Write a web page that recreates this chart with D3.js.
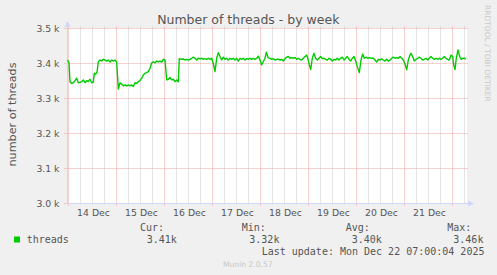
<!DOCTYPE html>
<html><head><meta charset="utf-8">
<script src="https://cdn.jsdelivr.net/npm/d3@7"></script>
<style>
html,body{margin:0;padding:0;background:#f0f0f0;}
svg{display:block;}
</style></head>
<body>
<script>
// ---- data ----
const title = "Number of threads - by week";
const yLabel = "number of threads";
const seriesName = "threads";
const yTicks = [3000, 3100, 3200, 3300, 3400, 3500];
const startTime = Date.UTC(2025, 11, 13, 23, 30);
const endTime = Date.UTC(2025, 11, 22, 7, 30);
// hours after startTime
const hours = [0,0.75,1.25,2.1,2.9,3.75,4.6,5.4,6.25,7.1,7.9,8.75,9.6,10.4,11.25,12.1,12.9,13.4,14.1,14.75,15.4,16.25,17.1,17.9,18.75,19.6,20.4,21.25,22.1,22.9,23.75,24.6,25.4,26.25,27.1,27.9,28.75,29.6,30.4,31.25,32.1,32.9,33.75,34.6,35.4,36.25,37.1,37.9,38.75,39.6,40.4,41.25,42.1,42.9,43.75,44.6,45.4,46.25,47.1,47.9,48.75,49.6,50.4,51.25,52.1,52.9,53.75,54.6,55.4,55.9,57.1,57.9,58.75,59.6,60.4,61.25,62.1,62.9,63.75,64.6,65.4,66.25,67.1,67.9,68.75,69.6,70.4,71.25,72.1,72.9,73.75,74.6,75.4,76.25,77.1,77.9,78.75,79.6,80.4,81.25,82.1,82.9,83.75,84.6,85.4,86.25,87.1,87.9,88.75,89.6,90.4,91.25,92.1,92.9,93.75,94.6,95.4,96.25,97.1,97.9,98.75,99.4,100.4,101.25,102.1,102.9,103.75,104.6,105.4,106.25,107.1,107.9,108.75,109.6,110.4,111.25,112.1,112.9,113.75,114.6,115.4,116.25,117.1,117.9,118.75,119.6,120.4,120.9,121.6,122.4,123.25,124.1,124.9,125.75,126.6,127.4,128.25,129.1,129.9,130.75,131.6,132.4,133.25,134.1,134.9,135.75,136.6,137.4,138.25,139.1,139.9,140.75,141.6,142.4,143.25,144.1,144.9,145.9,146.75,147.6,148.4,149.25,150.1,150.9,152.1,152.9,153.75,154.6,155.4,156.25,157.1,157.9,158.75,159.6,160.4,161.25,162.1,162.9,163.75,164.6,165.4,166.25,167.1,167.9,168.75,169.6,170.4,171.25,171.75,172.6,173.4,174.25,175.1,175.9,176.75,177.6,178.4,179.25,180.1,180.9,181.75,182.6,183.4,184.25,185.1,185.9,186.75,187.6,188.4,189.25,190.1,190.9,191.75,192.6,193.1,193.75,194.4,195.25,196.1,196.9,197.75,198.6,199.1];
const threads = [3410,3402,3348,3343,3345,3351,3358,3345,3346,3348,3353,3345,3351,3348,3355,3345,3347,3372,3370,3374,3405,3410,3407,3412,3410,3407,3410,3404,3410,3407,3410,3404,3327,3345,3341,3336,3339,3336,3339,3336,3339,3334,3345,3343,3348,3351,3358,3367,3372,3374,3377,3386,3402,3405,3402,3407,3405,3407,3404,3412,3410,3353,3355,3360,3353,3355,3348,3353,3348,3414,3412,3413,3410,3412,3410,3412,3415,3418,3415,3410,3415,3413,3415,3412,3414,3412,3415,3412,3415,3400,3377,3415,3431,3420,3410,3418,3412,3415,3410,3415,3412,3415,3410,3415,3407,3415,3412,3415,3410,3414,3412,3415,3412,3415,3412,3415,3421,3410,3396,3405,3415,3432,3416,3415,3412,3414,3410,3412,3412,3410,3412,3407,3414,3418,3420,3415,3417,3415,3417,3412,3415,3412,3410,3415,3420,3424,3410,3396,3383,3415,3429,3415,3410,3415,3420,3414,3415,3412,3410,3415,3412,3407,3412,3410,3415,3410,3415,3418,3410,3415,3420,3412,3407,3415,3420,3407,3391,3374,3410,3427,3415,3418,3415,3417,3415,3415,3410,3404,3412,3410,3413,3410,3407,3412,3407,3410,3415,3418,3415,3417,3415,3420,3415,3410,3399,3382,3410,3424,3429,3420,3407,3412,3415,3418,3415,3410,3412,3415,3410,3415,3420,3415,3412,3415,3412,3415,3412,3415,3420,3415,3412,3410,3424,3420,3396,3383,3415,3439,3420,3412,3415,3415,3412];
const legendHeaders = ["Cur:", "Min:", "Avg:", "Max:"];
const legendValues = ["3.41k", "3.32k", "3.40k", "3.46k"];
const lastUpdate = "Last update: Mon Dec 22 07:00:04 2025";
const version = "Munin 2.0.57";
const watermark = "RRDTOOL / TOBI OETIKER";

// ---- layout ----
const W = 497, H = 275;
const pLeft = 67.5, pRight = 467.5, pTop = 28.5, pBottom = 203.5;
const fontColor = "#555";

const svg = d3.select("body").append("svg").attr("width", W).attr("height", H);
svg.append("rect").attr("width", W).attr("height", H).attr("fill", "#f0f0f0");

const x = d3.scaleUtc().domain([startTime, endTime]).range([pLeft, pRight]);
const y = d3.scaleLinear().domain([3000, 3500]).range([pBottom, pTop]);

svg.append("rect").attr("x", 67).attr("y", 28).attr("width", 400).attr("height", 176).attr("fill", "#fff");

const s = new Date(startTime), e = new Date(endTime);
// minor vertical grid (6h)
const minor = d3.utcHour.every(6).range(s, e).filter(d => d.getUTCHours() !== 0);
svg.append("g").selectAll("line").data(minor).join("line")
  .attr("x1", d => Math.round(x(d) - 0.5) + 0.5).attr("x2", d => Math.round(x(d) - 0.5) + 0.5)
  .attr("y1", pTop - 2).attr("y2", pBottom)
  .attr("stroke", "#c8c8c8").attr("stroke-dasharray", "1,1");
// major vertical grid (days)
const days = d3.utcDay.range(s, e);
svg.append("g").selectAll("line").data(days).join("line")
  .attr("x1", d => Math.round(x(d) - 0.5) + 0.5).attr("x2", d => Math.round(x(d) - 0.5) + 0.5)
  .attr("y1", pTop - 2).attr("y2", pBottom + 3)
  .attr("stroke", "#eea0a0").attr("stroke-dasharray", "1,1");
// horizontal grid
svg.append("g").selectAll("line").data(yTicks).join("line")
  .attr("x1", pLeft - 3).attr("x2", pRight + 1)
  .attr("y1", d => y(d)).attr("y2", d => y(d))
  .attr("stroke", "#eea0a0").attr("stroke-dasharray", "1,1");

// y tick labels
svg.append("g").selectAll("text").data(yTicks).join("text")
  .attr("x", 59.5).attr("y", d => y(d) + 3.4)
  .attr("text-anchor", "end").attr("fill", fontColor)
  .style("font-family", "DejaVu Sans").style("font-size", "9.3px")
  .text(d => (d / 1000).toFixed(1) + " k");

// x labels at noon
const fmt = d3.utcFormat("%d Dec");
const noons = days.map(d => d3.utcHour.offset(d, 12)).filter(d => d < e);
svg.append("g").selectAll("text").data(noons).join("text")
  .attr("x", d => x(d) + 1).attr("y", 215.7)
  .attr("text-anchor", "middle").attr("fill", fontColor)
  .style("font-family", "DejaVu Sans").style("font-size", "9.3px")
  .text(d => fmt(d));

// axes
const axisColor = "#cfd6f8";
svg.append("line").attr("x1", pLeft).attr("x2", pLeft).attr("y1", 24).attr("y2", pBottom).attr("stroke", axisColor);
svg.append("line").attr("x1", pLeft).attr("x2", 471).attr("y1", pBottom).attr("y2", pBottom).attr("stroke", axisColor);
svg.append("path").attr("d", `M${pLeft - 3},27 L${pLeft + 3},27 L${pLeft},21 Z`).attr("fill", axisColor);
svg.append("path").attr("d", `M468,${pBottom - 3} L468,${pBottom + 3} L474,${pBottom} Z`).attr("fill", axisColor);

// series line
const pts = hours.map((h, i) => [startTime + h * 3600000, threads[i]]);
const line = d3.line().x(d => x(d[0])).y(d => y(d[1]));
svg.append("path").datum(pts).attr("d", line)
  .attr("fill", "none").attr("stroke", "#00cc00").attr("stroke-width", 1.4)
  .attr("stroke-linejoin", "round");

// title
svg.append("text").attr("x", 248.3).attr("y", 24).attr("text-anchor", "middle")
  .attr("fill", fontColor).style("font-family", "DejaVu Sans").style("font-size", "12.5px").text(title);

// y label
svg.append("text").attr("transform", "translate(15.5,114.5) rotate(-90)").attr("text-anchor", "middle")
  .attr("fill", fontColor).style("font-family", "DejaVu Sans").style("font-size", "11.2px").text(yLabel);

// watermark
svg.append("text").attr("transform", "translate(485,5) rotate(90)").attr("text-anchor", "start")
  .attr("fill", "#c8c8c8").style("font-family", "DejaVu Sans").style("font-size", "7.5px").text(watermark);

// legend
const mono = "DejaVu Sans Mono";
svg.append("rect").attr("x", 14).attr("y", 236.5).attr("width", 6).attr("height", 6).attr("fill", "#00cc00");
svg.append("text").attr("x", 26.7).attr("y", 242.7).attr("fill", fontColor)
  .style("font-family", mono).style("font-size", "10px").text(seriesName);
const headerX = [140, 241.7, 345.7, 447.3];
const valueX = [146.7, 249.3, 351.7, 453.3];
svg.append("g").selectAll("text").data(legendHeaders).join("text")
  .attr("x", (d, i) => headerX[i]).attr("y", 231).attr("fill", fontColor)
  .style("font-family", mono).style("font-size", "10px").text(d => d);
svg.append("g").selectAll("text").data(legendValues).join("text")
  .attr("x", (d, i) => valueX[i]).attr("y", 242.7).attr("fill", fontColor)
  .style("font-family", mono).style("font-size", "10px").text(d => d);
svg.append("text").attr("x", 261.7).attr("y", 255).attr("fill", fontColor)
  .style("font-family", mono).style("font-size", "10px").text(lastUpdate);
svg.append("text").attr("x", 247.8).attr("y", 267).attr("text-anchor", "middle").attr("fill", "#c8c8c8")
  .style("font-family", "DejaVu Sans").style("font-size", "7.6px").text(version);
</script>
</body></html>
